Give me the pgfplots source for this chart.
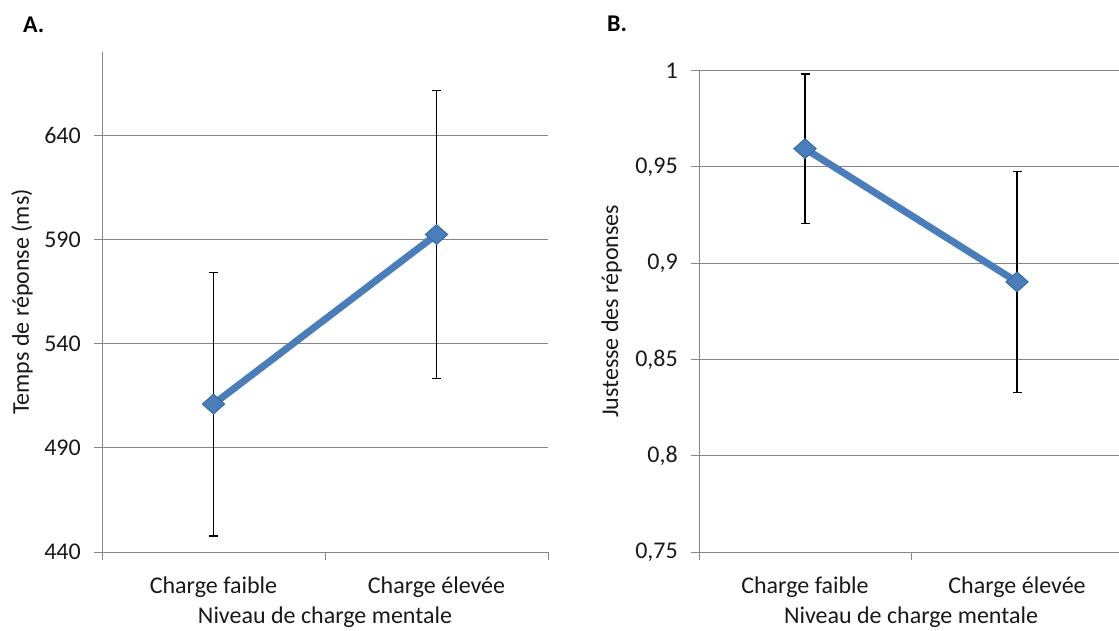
\documentclass[border=0pt]{standalone}
\usepackage{pgfplots}
\pgfplotsset{compat=1.18}
\usepackage{fontspec}
\setmainfont{Carlito}
\definecolor{exblue}{RGB}{74,126,187}
\definecolor{exbluedark}{RGB}{55,100,160}
\definecolor{gridgray}{RGB}{134,134,134}

\pgfplotstableread{
x y e
0 511.0 63.3
1 592.4 69.2
}\dataA
\pgfplotstableread{
x y e
0 0.9595 0.0388
1 0.8903 0.0573
}\dataB

\begin{document}
\begin{tikzpicture}
\useasboundingbox (0pt,0pt) rectangle (1119pt,630pt);
\pgfplotsset{
 panel/.style={
  scale only axis, anchor=south west,
  axis x line=bottom, axis y line=left,
  axis line style={gridgray, line width=1pt, -},
  xmin=-0.5, xmax=1.5,
  xtick={-0.5,0.5,1.5}, xticklabels={,,},
  extra x ticks={0,1},
  extra x tick labels={Charge faible,Charge élevée},
  extra x tick style={major tick length=0pt, xticklabel style={anchor=base, inner sep=0pt, yshift=-41pt}},
  tick style={gridgray, line width=1pt},
  tick align=outside,
  major tick length=8pt,
  ymajorgrids, grid style={gridgray, line width=1pt},
  tick label style={font=\fontsize{24}{28}\selectfont, black!90},
  yticklabel style={anchor=east, inner sep=0pt, xshift=-13pt},
  label style={font=\fontsize{24}{28}\selectfont, black!90},
  xlabel={Niveau de charge mentale},
  xlabel style={at={([yshift=-71pt]axis description cs:0.5,0)}, anchor=base, inner sep=0pt},
  /pgf/number format/assume math mode=true,
 },
 errplot/.style={draw=none, mark=none, error bars/.cd, y dir=both, y explicit,
   error bar style={black, line width=1.3pt},
   error mark options={black, line width=1.3pt, mark size=4.5pt, rotate=90}},
 lineplot/.style={exblue, line width=7pt, mark=diamond*, mark size=10pt,
   mark options={xscale=1.5, fill=exblue, draw=exbluedark, line width=0.8pt}},
}

\begin{axis}[panel, at={(102pt,78pt)}, width=446pt, height=500pt,
  ymin=440, ymax=680, ytick={440,490,540,590,640},
  ylabel={Temps de réponse (ms)},
  ylabel style={at={([xshift=-73pt]axis description cs:0,0.5)}, anchor=base, inner sep=0pt}]
\addplot+[errplot] table[x=x, y=y, y error=e] {\dataA};
\addplot[lineplot] table[x=x, y=y] {\dataA};
\end{axis}

\begin{axis}[panel, at={(699pt,78pt)}, width=424pt, height=481.3pt,
  ymin=0.75, ymax=1, ytick={0.75,0.8,0.85,0.9,0.95,1},
  /pgf/number format/.cd, use comma, fixed, precision=2, /pgfplots/.cd,
  ylabel={Justesse des réponses},
  ylabel style={at={([xshift=-81pt]axis description cs:0,0.5)}, anchor=base, inner sep=0pt}]
\addplot+[errplot] table[x=x, y=y, y error=e] {\dataB};
\addplot[lineplot] table[x=x, y=y] {\dataB};
\end{axis}

\node[anchor=base west, inner sep=0pt, font=\bfseries\fontsize{24}{28}\selectfont] at (23pt,597pt) {A.};
\node[anchor=base west, inner sep=0pt, font=\bfseries\fontsize{24}{28}\selectfont] at (607pt,598pt) {B.};
\end{tikzpicture}
\end{document}
